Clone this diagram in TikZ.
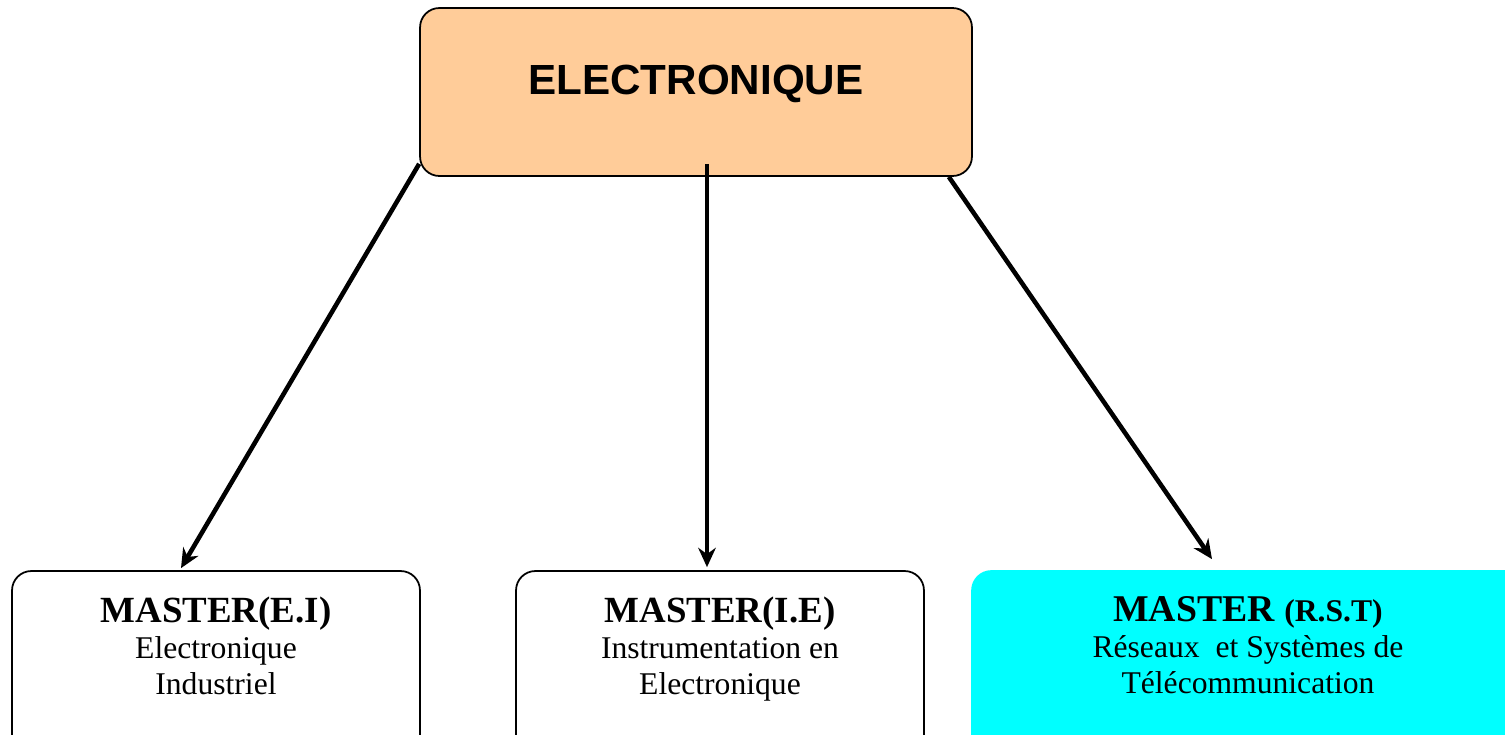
\documentclass[tikz,border=0pt]{standalone}
\usepackage{fontspec}
\setmainfont{Liberation Serif}
\newfontfamily\headfont{Liberation Sans}
\usetikzlibrary{arrows.meta,calc,positioning}
\definecolor{peach}{RGB}{255,204,153}
\definecolor{aqua}{RGB}{0,255,255}

\begin{document}
\begin{tikzpicture}[x=0.02cm,y=-0.02cm,
    topbox/.style={draw,line width=1pt,rounded corners=11pt,fill=peach,
      minimum width=11.04cm,minimum height=3.36cm},
    masterbox/.style={draw,line width=1pt,rounded corners=11pt,
      minimum width=8.16cm,minimum height=4.6cm},
    mastertxt/.style={align=center,inner sep=0pt,anchor=north,
      font=\fontsize{18}{20.5}\selectfont},
    link/.style={line width=2.6pt,-{Stealth[length=11pt,width=10pt]}}]
  \useasboundingbox (0,0) rectangle (1505,734);

  \node[topbox] (elec) at (696,92) {};
  \node[font=\headfont\bfseries\fontsize{24}{28}\selectfont] (electxt) at (696,84) {ELECTRONIQUE};

  \node[masterbox] (ei) at (216,686) {};
  \node[masterbox] (ie) at (720,686) {};
  \node[masterbox,draw=aqua,fill=aqua,minimum width=11.16cm] (rst) at (1251,686) {};

  \node[mastertxt] (eitxt) at ($(ei.north)+(0,26)$)
    {{\fontsize{21}{24}\selectfont\bfseries MASTER(E.I)}\\Electronique\\Industriel};
  \node[mastertxt] (ietxt) at ($(ie.north)+(0,26)$)
    {{\fontsize{21}{24}\selectfont\bfseries MASTER(I.E)}\\Instrumentation en\\Electronique};
  \node[mastertxt] (rsttxt) at ($(rst.north)+(-3,26)$)
    {{\fontsize{21.5}{24}\selectfont\bfseries MASTER {\fontsize{18}{20}\selectfont(R.S.T)}}\\R\'eseaux\ \ et Syst\`emes de\\T\'el\'ecommunication};

  % free ends of the links
  \coordinate (lstart) at ($(elec.south west)+(0,-13)$);
  \coordinate (mstart) at ($(elec.south)+(11,-13)$);
  \coordinate (rstart) at ($(elec.south east)+(-24,0)$);
  \coordinate (lend) at ($(ei.north)+(-35,-2)$);
  \coordinate (mend) at ($(ie.north)+(-13,-3)$);
  \coordinate (rend) at ($(rst.north)+(-39,-11)$);

  \draw[link] (lstart) -- (lend);
  \draw[link] (mstart) -- (mend);
  \draw[link] (rstart) -- (rend);
\end{tikzpicture}
\end{document}
